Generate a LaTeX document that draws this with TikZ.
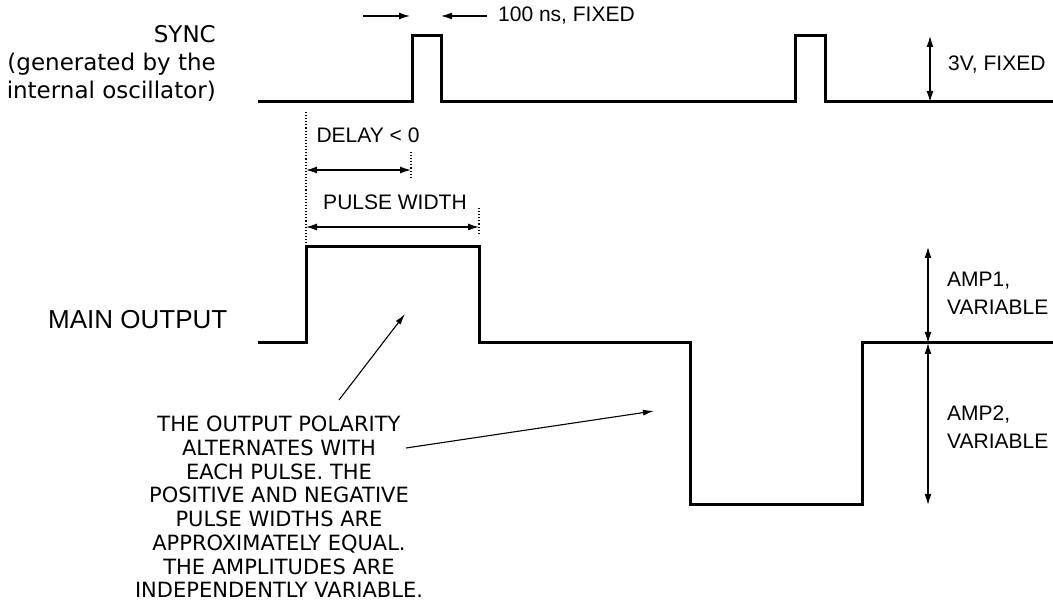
\documentclass[tikz,border=0pt]{standalone}
\usepackage{fontspec}
\setmainfont{DejaVu Sans}
\newfontfamily\arialfont{Liberation Sans}
\usetikzlibrary{arrows.meta}
\begin{document}
\begin{tikzpicture}[x=1pt,y=-1pt,
  wave/.style={line width=3pt, line join=miter},
  dimline/.style={line width=1.3pt, {Latex[length=11pt,width=7pt]}-{Latex[length=11pt,width=7pt]}},
  oneway/.style={line width=1.3pt, -{Latex[length=11pt,width=7pt]}},
  pointer/.style={line width=1.1pt, -{Latex[length=11pt,width=6pt]}},
  guide/.style={line width=1.1pt, dotted},
  synclabel/.style={font=\fontsize{23}{28}\selectfont, inner sep=0pt},
  mainlabel/.style={font=\arialfont\fontsize{26}{28}\selectfont, inner sep=0pt},
  dimlabel/.style={font=\arialfont\fontsize{21}{28}\selectfont, inner sep=0pt},
  note/.style={font=\fontsize{21}{23.7}\selectfont, inner sep=0pt, align=center}]
\useasboundingbox (0,0) rectangle (1053,601);

% SYNC waveform
\draw[wave] (258,102) -- (412,102) -- (412,36) -- (441,36) -- (441,102)
  -- (795,102) -- (795,36) -- (825,36) -- (825,102) -- (1053,102);
% MAIN OUTPUT waveform
\draw[wave] (258,343) -- (306,343) -- (306,247) -- (479,247) -- (479,343)
  -- (690,343) -- (690,505) -- (862,505) -- (862,343) -- (1053,343);

% labels
\node[synclabel, anchor=east, align=right] (sync) at (216,63) {SYNC\\(generated by the\\internal oscillator)};
\node[mainlabel, anchor=west] (mainout) at (48,320) {MAIN OUTPUT};

% 100 ns fixed
\coordinate (wA1) at (363,16);
\coordinate (wA2) at (410,16);
\coordinate (wB1) at (487,16);
\coordinate (wB2) at (441,16);
\draw[oneway] (wA1) -- (wA2);
\draw[oneway] (wB1) -- (wB2);
\node[dimlabel, anchor=west] (fixedw) at (498,16) {100 ns, FIXED};

% 3V fixed
\coordinate (v1) at (930,36);
\coordinate (v2) at (930,102);
\draw[dimline] (v1) -- (v2);
\node[dimlabel, anchor=west] (fixedv) at (948,65) {3V, FIXED};

% delay & pulse width
\coordinate (g0a) at (306,112);
\coordinate (g0b) at (306,245);
\draw[guide] (g0a) -- (g0b);
\coordinate (g1a) at (411,152);
\coordinate (g1b) at (411,178);
\draw[guide] (g1a) -- (g1b);
\coordinate (g2a) at (479,208);
\coordinate (g2b) at (479,235);
\draw[guide] (g2a) -- (g2b);
\coordinate (d1) at (306,170);
\coordinate (d2) at (411,170);
\draw[dimline] (d1) -- (d2);
\node[dimlabel] (delay) at (368,135) {DELAY < 0};
\coordinate (p1) at (306,227);
\coordinate (p2) at (479,227);
\draw[dimline] (p1) -- (p2);
\node[dimlabel] (pw) at (395,202) {PULSE WIDTH};

% amplitudes
\coordinate (a1) at (928,247);
\coordinate (a2) at (928,343);
\coordinate (a3) at (928,505);
\draw[dimline] (a1) -- (a2);
\draw[dimline] (a2) -- (a3);
\node[dimlabel, anchor=west, align=left] (amp1) at (947,293) {AMP1,\\VARIABLE};
\node[dimlabel, anchor=west, align=left] (amp2) at (947,427) {AMP2,\\VARIABLE};

% note
\node[note] (note) at (279,507) {THE OUTPUT POLARITY\\ALTERNATES WITH\\EACH PULSE. THE\\POSITIVE AND NEGATIVE\\PULSE WIDTHS ARE\\APPROXIMATELY EQUAL.\\THE AMPLITUDES ARE\\INDEPENDENTLY VARIABLE.};
\coordinate (t1) at (339,400);
\coordinate (t2) at (405,314);
\coordinate (s1) at (406,448);
\coordinate (s2) at (654,411);
\draw[pointer] (t1) -- (t2);
\draw[pointer] (s1) -- (s2);
\end{tikzpicture}
\end{document}
